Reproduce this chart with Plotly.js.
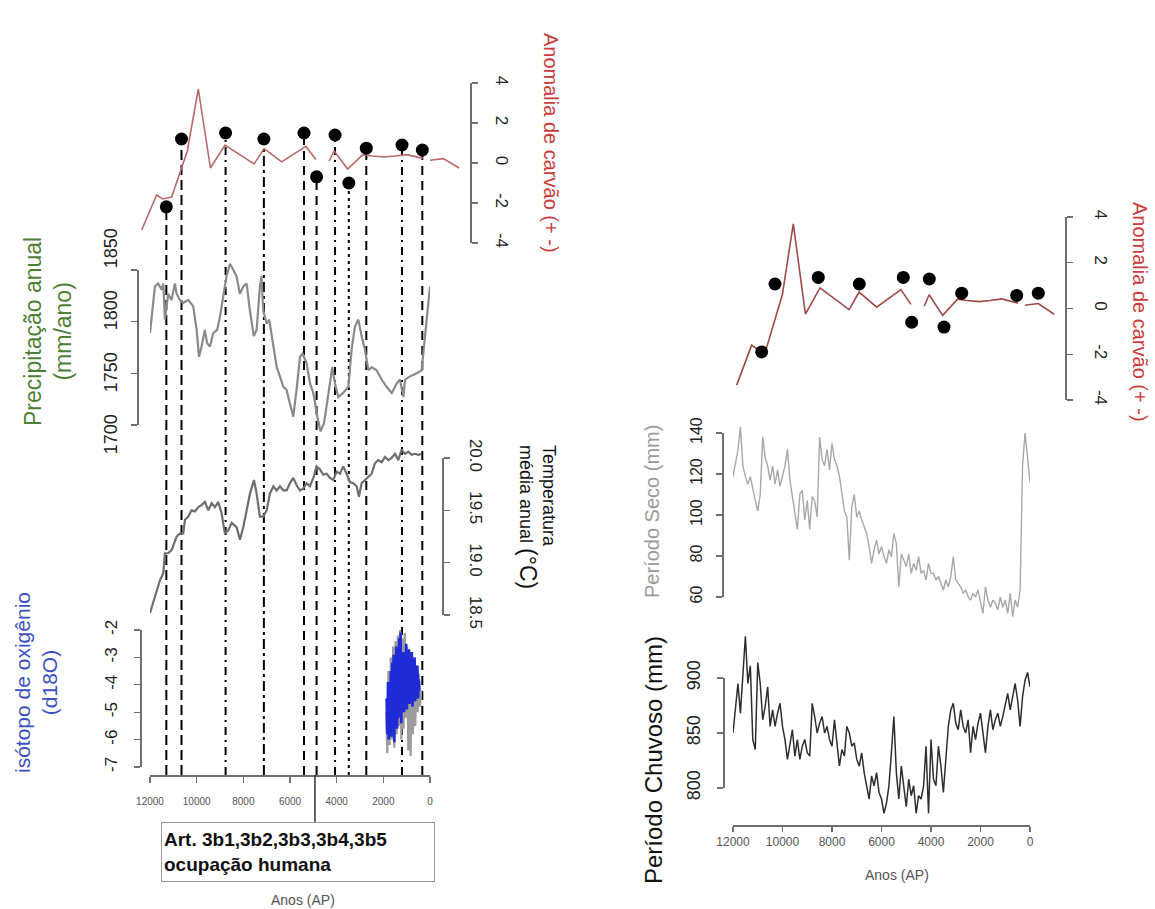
<!DOCTYPE html>
<html>
<head>
<meta charset="utf-8">
<script src="https://cdn.plot.ly/plotly-3.0.1.min.js"></script>
<style>html,body{margin:0;padding:0;background:#fff;}#chart{width:1155px;height:909px;}</style>
</head>
<body>
<div id="chart"></div>
<script>
// ---------------- DATA ----------------
// Anomalia de carvão (idades em anos AP)
const carvaoAnos = [12357,11714,11450,11071,10400,9930,9410,8786,7540,7110,6357,5320,4890,4600,4320,4110,3530,2890,2500,1970,1500,1000,290,150,0,-570,-1250];
const carvaoValores = [-3.35,-1.6,-1.8,-1.7,0.6,3.7,-0.25,0.9,-0.05,0.72,0.06,0.83,0.18,null,0.1,0.6,-0.3,0.41,0.35,0.3,0.35,0.42,0.23,null,0.14,0.22,-0.25];
// eventos (pontos pretos) - painel esquerdo
const eventosAnos = [11300,10650,8760,7120,5400,4860,4070,3480,2730,1200,330];
const eventosAnomalia = [-2.19,1.2,1.5,1.2,1.5,-0.69,1.4,-1.0,0.74,0.9,0.65];
// eventos - painel direito
const eventosDirAnos = [11285,10715,8859,7102,5216,4856,4102,3472,2713,356,-570];
const eventosDirAnomalia = [-1.9,1.07,1.36,1.07,1.36,-0.6,1.29,-0.81,0.67,0.57,0.67];
// ocupação humana (Art. 3b1..3b5)
const ocupacaoAno = 4930;

// Precipitação anual (mm/ano)
const precipAnos = [12000,11790,11650,11500,11430,11360,11220,11080,10930,10860,
10720,10580,10360,10150,10000,9900,9790,9650,9550,9430,
9290,9120,9000,8860,8720,8570,8430,8290,8150,8000,
7860,7720,7550,7430,7290,7220,7150,7000,6890,6790,
6690,6570,6430,6290,6150,6000,5860,5720,5570,5460,
5290,5140,5000,4830,4690,4540,4400,4290,4190,4070,
3930,3720,3500,3360,3220,3070,2930,2790,2640,2500,
2290,2070,1860,1640,1430,1290,1140,1070,860,570,
360,210,70,0];
const precipValores = [1789,1834,1837,1831,1837,1802,1827,1821,1837,1827,
1821,1818,1821,1815,1792,1766,1776,1792,1779,1776,
1789,1792,1805,1827,1844,1856,1850,1844,1827,1834,
1837,1811,1786,1792,1834,1844,1811,1798,1802,1786,
1773,1756,1747,1737,1734,1721,1708,1734,1766,1769,
1760,1740,1731,1708,1694,1702,1721,1740,1756,1740,
1727,1731,1737,1773,1795,1802,1786,1773,1753,1756,
1753,1744,1737,1731,1740,1744,1727,1744,1747,1750,
1753,1786,1815,1834];

// Temperatura média anual (°C)
const tempAnos = [12000,11790,11575,11430,11360,11220,11075,10860,10720,10575,
10500,10360,10220,10075,9930,9790,9645,9500,9360,9215,
9075,8930,8790,8645,8500,8290,8145,8000,7860,7715,
7545,7430,7290,7145,7000,6860,6715,6575,6430,6290,
6145,6000,5860,5715,5575,5430,5290,5145,5000,4860,
4715,4575,4430,4290,4145,4000,3860,3715,3575,3430,
3290,3145,3045,2930,2785,2645,2500,2360,2215,2070,
1930,1785,1645,1500,1360,1215,1070,930,785,645,
500,360];
const tempValores = [18.52,18.68,18.83,18.9,19.09,19.09,19.12,19.25,19.28,19.28,
19.41,19.44,19.5,19.49,19.53,19.55,19.58,19.5,19.57,19.53,
19.58,19.47,19.28,19.31,19.38,19.34,19.22,19.34,19.5,19.66,
19.79,19.66,19.44,19.44,19.5,19.66,19.73,19.69,19.73,19.69,
19.69,19.76,19.81,19.74,19.69,19.71,19.76,19.73,19.81,19.92,
19.89,19.84,19.85,19.81,19.79,19.87,19.85,19.92,19.85,19.77,
19.76,19.73,19.63,19.76,19.79,19.82,19.85,19.95,19.98,19.96,
20.01,19.98,20.0,20.04,19.98,20.08,20.04,20.06,20.03,20.04,
20.03,20.04];

// isótopo de oxigênio (d18O)
const d18oAnos = [1860,1830,1800,1770,1740,1710,1680,1650,1620,1590,1560,1530,1500,1470,1440,1410,1380,1350,1320,1290,1260,1230,1200,1170,1140,1110,1080,1050,1020,990,960,930,900,870,840,810,780,750,720,690,660,630,600,570,540,510,480,450];
const d18oValores = [-4.5,-5.8,-3.9,-6.0,-4.2,-5.5,-3.5,-5.9,-3.2,-5.0,-2.9,-6.1,-3.6,-4.8,-2.6,-5.6,-3.1,-5.2,-2.3,-4.9,-2.1,-5.4,-3.0,-4.6,-2.8,-5.0,-3.4,-4.4,-2.5,-4.9,-3.6,-4.2,-2.7,-4.7,-3.2,-4.5,-2.8,-4.8,-3.5,-4.1,-3.0,-4.6,-3.4,-4.3,-3.3,-4.5,-3.8,-4.2];
const d18oCinzaAnos = [1880,1830,1780,1730,1680,1630,1580,1530,1480,1430,1380,1330,1280,1230,1180,1130,1080,1030,980,930,880,830,780,730,680,630,580,530,480,430,380];
const d18oCinzaValores = [-5.0,-6.5,-3.5,-6.2,-3.0,-6.0,-2.6,-6.3,-2.4,-5.8,-2.2,-5.5,-2.0,-6.0,-2.3,-5.6,-2.1,-5.2,-2.6,-6.4,-2.8,-6.6,-3.0,-5.8,-3.2,-5.5,-3.3,-5.0,-3.6,-4.8,-4.2];

// Modelo: Período Seco e Período Chuvoso (mm)
const anosModelo = [12000,11900,11800,11700,11600,11500,11400,11300,11200,11100,
11000,10900,10800,10700,10600,10500,10400,10300,10200,10100,
10000,9900,9800,9700,9600,9500,9400,9300,9200,9100,
9000,8900,8800,8700,8600,8500,8400,8300,8200,8100,
8000,7900,7800,7700,7600,7500,7400,7300,7200,7100,
7000,6900,6800,6700,6600,6500,6400,6300,6200,6100,
6000,5900,5800,5700,5600,5500,5400,5300,5200,5100,
5000,4900,4800,4700,4600,4500,4400,4300,4200,4100,
4000,3900,3800,3700,3600,3500,3400,3300,3200,3100,
3000,2900,2800,2700,2600,2500,2400,2300,2200,2100,
2000,1900,1800,1700,1600,1500,1400,1300,1200,1100,
1000,900,800,700,600,500,400,300,200,100,
0];
const secoValores = [118.7,125,131.7,143,124,118.7,115,118.7,112,107,
102,110,138,128,124,117,124,115,122,114,
119,124,132,117,109,101,93,110,112,97.5,
107,93,109,107,99,138,127,124,132,122,
135,127,124,119,110,102,99,78,104,110,
99,102,97.6,94,91,84.6,76.4,83,87.8,81,
84.6,79.7,76.4,83,79.7,91,86,65,81,78,
74.8,81,71.5,76.4,73,79.7,71.5,73,68.3,76.4,
71.5,71.5,68.3,70,66.7,63.4,68.3,65,70,79.7,
68.3,66.7,65,61.8,63.4,60.2,58.5,61.8,60,63.4,
57,52,65,58.5,55,58.5,57,53.7,60,55,
58.5,52,61.8,50.4,58.5,55,63.4,
124,140,128,116];
const chuvosoValores = [850,871,895,868,902,938,895,911,844,835,
914,895,862,874,892,856,871,856,868,877,
856,844,826,838,853,829,844,826,838,844,
832,829,877,865,850,859,865,850,856,844,
838,862,841,820,835,829,856,850,838,841,
826,820,832,814,802,790,811,802,814,796,
790,777,786,802,832,865,814,790,820,802,
783,808,793,802,777,793,790,802,838,777,
844,808,802,838,820,796,829,856,871,877,
859,853,871,856,850,862,832,856,844,859,
868,847,832,856,871,853,862,868,856,865,
877,886,871,883,895,880,856,883,898,905,
892];

// tick labels
const anosTicks = [12000,10000,8000,6000,4000,2000,0];
const anosTickTexto = ['12000','10000','8000','6000','4000','2000','0'];
const carvaoTicks = [-4,-2,0,2,4];
const carvaoTickTexto = ['-4','-2','0','2','4'];
const precipTicks = [1700,1750,1800,1850];
const precipTickTexto = ['1700','1750','1800','1850'];
const tempTicks = [18.5,19.0,19.5,20.0];
const tempTickTexto = ['18.5','19.0','19.5','20.0'];
const d18oTicks = [-7,-6,-5,-4,-3,-2];
const d18oTickTexto = ['-7','-6','-5','-4','-3','-2'];
const secoTicks = [60,80,100,120,140];
const secoTickTexto = ['60','80','100','120','140'];
const chuvosoTicks = [800,850,900];
const chuvosoTickTexto = ['800','850','900'];

// ---------------- LAYOUT HELPERS ----------------
const W = 1155, H = 909;
const FONT = 'Liberation Sans, Arial, Helvetica, sans-serif';
const px = p => p / W;
const py = p => 1 - p / H;
function yd(top, bot) { return [1 - bot / H, 1 - top / H]; }
function span(vA, pA, vB, pB, lo, hi) {
  const k = (pB - pA) / (vB - vA);
  const f = v => pA + (v - vA) * k;
  return yd(f(hi), f(lo));
}
const AX = '#6f6f6f';
function bracket(extra) {
  return Object.assign({
    showline: true, linecolor: AX, linewidth: 1.6, ticks: 'outside', ticklen: 6,
    tickcolor: AX, tickwidth: 1.4, showgrid: false, zeroline: false, fixedrange: true,
    tickfont: {family: FONT, size: 17, color: '#222'}
  }, extra);
}
const hidden = extra => Object.assign({visible: false, showgrid: false, zeroline: false, fixedrange: true}, extra);

const domCarvaoL = yd(83, 243);
const domCarvaoR = yd(217, 400);
const xAxisLeftY = py(775);

// ---------------- TRACES ----------------
const traces = [
  {x: carvaoAnos, y: carvaoValores, xaxis: 'x2', yaxis: 'y', mode: 'lines', line: {color: '#b86a6a', width: 1.6}, connectgaps: false},
  {x: eventosAnos, y: eventosAnomalia, xaxis: 'x2', yaxis: 'y', mode: 'markers', marker: {color: '#000', size: 13}},
  {x: precipAnos, y: precipValores, xaxis: 'x', yaxis: 'y2', mode: 'lines', line: {color: '#8a8a8a', width: 2.2}},
  {x: [], y: [], xaxis: 'x', yaxis: 'y3', mode: 'lines'},
  {x: [], y: [], xaxis: 'x', yaxis: 'y4', mode: 'lines'},
  {x: tempAnos, y: tempValores, xaxis: 'x', yaxis: 'y5', mode: 'lines', line: {color: '#6e6e6e', width: 2.2}},
  {x: [], y: [], xaxis: 'x', yaxis: 'y6', mode: 'lines'},
  {x: d18oCinzaAnos, y: d18oCinzaValores, xaxis: 'x', yaxis: 'y7', mode: 'lines', line: {color: '#9c9c9c', width: 2.2}},
  {x: d18oAnos, y: d18oValores, xaxis: 'x', yaxis: 'y7', mode: 'lines', line: {color: '#1f2bd6', width: 2.6}},
  {x: [], y: [], xaxis: 'x', yaxis: 'y8', mode: 'lines'},
  {x: carvaoAnos, y: carvaoValores, xaxis: 'x4', yaxis: 'y10', mode: 'lines', line: {color: '#a04a4a', width: 1.6}, connectgaps: false},
  {x: eventosDirAnos, y: eventosDirAnomalia, xaxis: 'x4', yaxis: 'y10', mode: 'markers', marker: {color: '#000', size: 13}},
  {x: anosModelo, y: secoValores, xaxis: 'x3', yaxis: 'y11', mode: 'lines', line: {color: '#a8a8a8', width: 1.4}},
  {x: [], y: [], xaxis: 'x3', yaxis: 'y12', mode: 'lines'},
  {x: anosModelo, y: chuvosoValores, xaxis: 'x3', yaxis: 'y13', mode: 'lines', line: {color: '#2e2e2e', width: 1.5}},
  {x: [], y: [], xaxis: 'x3', yaxis: 'y14', mode: 'lines'}
].map(t => Object.assign({showlegend: false, hoverinfo: 'skip', type: 'scatter'}, t));

// ---------------- SHAPES (linhas tracejadas dos eventos) ----------------
const dashStyles = ['10px,5px', '10px,5px', '8px,5px,2px,5px', '10px,4px,3px,4px', '9px,6px', '9px,6px', '8px,5px,2px,5px', '3px,4px', '9px,6px', '8px,5px,2px,5px', '9px,6px'];
const carvaoToPaper = v => domCarvaoL[0] + (v + 4) / 8 * (domCarvaoL[1] - domCarvaoL[0]);
const shapes = eventosAnos.map((a, i) => ({
  type: 'line', xref: 'x2', yref: 'paper', x0: a, x1: a,
  y0: xAxisLeftY, y1: carvaoToPaper(eventosAnomalia[i]),
  line: {color: '#000', width: 2, dash: dashStyles[i % dashStyles.length]}, layer: 'below'
}));
shapes.push({type: 'line', xref: 'x', yref: 'paper', x0: ocupacaoAno, x1: ocupacaoAno, y0: py(822), y1: xAxisLeftY, line: {color: '#333', width: 1.5}});

// ---------------- ANNOTATIONS ----------------
const red = '#cc3b3b';
const ann = (o) => Object.assign({xref: 'paper', yref: 'paper', showarrow: false, xanchor: 'center', yanchor: 'middle'}, o);
const annotations = [
  ann({x: px(551), y: py(143), text: 'Anomalia de carvão (+ -)', textangle: 90, font: {family: FONT, size: 20, color: red}}),
  ann({x: px(48), y: py(332), text: 'Precipitação anual<br>(mm/ano)', textangle: -90, font: {family: FONT, size: 23, color: '#4f7f35'}}),
  ann({x: px(36), y: py(683), text: 'isótopo de oxigênio<br>(d18O)', textangle: -90, font: {family: FONT, size: 21, color: '#3d4fc4'}}),
  ann({x: px(537), y: py(443), yanchor: 'top', align: 'left', text: 'Temperatura<br>média anual <span style="font-size:23px">(°C)</span>', textangle: 90, font: {family: FONT, size: 18, color: '#111'}}),
  ann({x: px(298), y: py(852), text: '<b>Art. 3b1,3b2,3b3,3b4,3b5<br>ocupação humana</b>', align: 'left', width: 268, height: 54, bgcolor: '#fff', bordercolor: '#999', borderwidth: 1, borderpad: 2, font: {family: FONT, size: 19, color: '#111'}}),
  ann({x: px(303), y: py(900), text: 'Anos (AP)', font: {family: FONT, size: 14, color: '#555'}}),
  ann({x: px(1140), y: py(312), text: 'Anomalia de carvão (+ -)', textangle: 90, font: {family: FONT, size: 20, color: red}}),
  ann({x: px(652), y: py(512), text: 'Período Seco (mm)', textangle: -90, font: {family: FONT, size: 20, color: '#9a9a9a'}}),
  ann({x: px(653), y: py(760), text: 'Período Chuvoso (mm)', textangle: -90, font: {family: FONT, size: 24, color: '#111'}}),
  ann({x: px(897), y: py(875), text: 'Anos (AP)', font: {family: FONT, size: 14, color: '#555'}})
];

// ---------------- LAYOUT ----------------
const layout = {
  width: W, height: H, margin: {l: 0, r: 0, t: 0, b: 0, pad: 0},
  paper_bgcolor: '#fff', plot_bgcolor: 'rgba(0,0,0,0)', showlegend: false,
  font: {family: FONT},
  xaxis: bracket({domain: [px(150), px(430)], range: [12000, 0], anchor: 'free', position: xAxisLeftY,
    tickvals: anosTicks, ticktext: anosTickTexto, tickfont: {family: FONT, size: 10, color: '#555'}, ticklabelstandoff: 10}),
  xaxis2: hidden({domain: [px(130), px(470)], range: [12857, -1714], anchor: 'y'}),
  xaxis3: bracket({domain: [px(733), px(1030)], range: [12000, 0], anchor: 'free', position: py(825), ticklen: 5,
    tickvals: anosTicks, ticktext: anosTickTexto, tickfont: {family: FONT, size: 12, color: '#555'}, ticklabelstandoff: 0}),
  xaxis4: hidden({domain: [px(725), px(1065)], range: [12857, -1714], anchor: 'y10'}),
  // charcoal left
  yaxis: bracket({domain: domCarvaoL, range: [-4, 4], anchor: 'x2', side: 'right', tickangle: 90,
    tickvals: carvaoTicks, ticktext: carvaoTickTexto, ticklabelstandoff: 12}),
  // precipitation
  yaxis2: hidden({domain: span(1700, 425, 1850, 270, 1680, 1870), range: [1680, 1870], anchor: 'x'}),
  yaxis3: bracket({domain: yd(270, 425), range: [1700, 1850], anchor: 'free', position: px(137), side: 'left',
    tickvals: precipTicks, showticklabels: false}),
  yaxis4: {domain: yd(251, 437), range: [1700, 1850], anchor: 'free', position: px(137), side: 'left', showline: false,
    ticks: '', showgrid: false, zeroline: false, tickangle: -90, tickvals: precipTicks, ticktext: precipTickTexto,
    tickfont: {family: FONT, size: 18, color: '#222'}, ticklabelstandoff: 16, fixedrange: true},
  // temperature
  yaxis5: hidden({domain: span(18.5, 615, 20.0, 458, 18.4, 20.2), range: [18.4, 20.2], anchor: 'x'}),
  yaxis6: bracket({domain: yd(458, 615), range: [18.5, 20.0], anchor: 'free', position: px(442), side: 'right', tickangle: 90,
    tickvals: tempTicks, ticktext: tempTickTexto, ticklabelstandoff: 14}),
  // d18O
  yaxis7: hidden({domain: span(-7, 767, -2, 630, -7.4, -1.6), range: [-7.4, -1.6], anchor: 'x'}),
  yaxis8: bracket({domain: yd(630, 767), range: [-7, -2], anchor: 'free', position: px(140), side: 'left', tickangle: -90,
    tickvals: d18oTicks, ticktext: d18oTickTexto, ticklabelstandoff: 10}),
  // charcoal right
  yaxis10: bracket({domain: domCarvaoR, range: [-4, 4], anchor: 'x4', side: 'right', tickangle: 90,
    tickvals: carvaoTicks, ticktext: carvaoTickTexto, ticklabelstandoff: 16}),
  // seco
  yaxis11: hidden({domain: span(60, 597, 140, 433, 45, 150), range: [45, 150], anchor: 'x3'}),
  yaxis12: bracket({domain: yd(433, 597), range: [60, 140], anchor: 'free', position: px(722), side: 'left', tickangle: -90,
    tickvals: secoTicks, ticktext: secoTickTexto, tickfont: {family: FONT, size: 16, color: '#222'}, ticklabelstandoff: 8}),
  // chuvoso
  yaxis13: hidden({domain: span(800, 788, 900, 678, 760, 945), range: [760, 945], anchor: 'x3'}),
  yaxis14: bracket({domain: yd(678, 788), range: [800, 900], anchor: 'free', position: px(723), side: 'left', tickangle: -90,
    tickvals: chuvosoTicks, ticktext: chuvosoTickTexto, tickfont: {family: FONT, size: 18, color: '#222'}, ticklabelstandoff: 10}),
  shapes: shapes,
  annotations: annotations
};

Plotly.newPlot('chart', traces, layout, {displayModeBar: false, staticPlot: true});
</script>
</body>
</html>
